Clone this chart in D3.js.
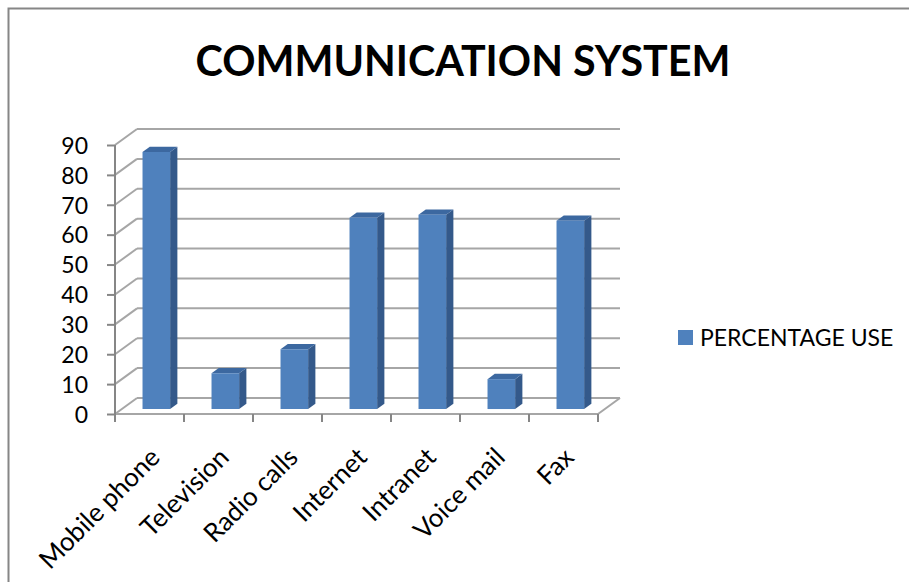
<!DOCTYPE html>
<html><head><meta charset="utf-8">
<script src="https://cdn.jsdelivr.net/npm/d3@7"></script>
<style>html,body{margin:0;padding:0;background:#fff;}svg{display:block;}</style>
</head><body>
<svg id="c" width="909" height="582"></svg>
<script>
const categories = ["Mobile phone","Television","Radio calls","Internet","Intranet","Voice mail","Fax"];
const values = [86, 12, 20, 64, 65, 10, 63];
const yTicks = [0,10,20,30,40,50,60,70,80,90];
const seriesName = "PERCENTAGE USE";
const title = "COMMUNICATION SYSTEM";

const svg = d3.select("#c");
const FONT = "Lato, 'Open Sans', sans-serif";
const DX = 22, DY = 16;           // depth offset (oblique)
const zF = 0.31, zB = 0.64;       // bar depth span

svg.append("rect").attr("x",8.5).attr("y",8.5).attr("width",1000).attr("height",1000)
  .attr("fill","#fff").attr("stroke","#868686").attr("stroke-width",2);

const x = d3.scaleBand().domain(categories).range([115, 598]).paddingInner(0).paddingOuter(0);
const y = d3.scaleLinear().domain([0, 90]).range([414, 145]);

const grid = svg.append("g");
grid.selectAll("line.bw").data(yTicks).join("line")
  .attr("x1", 115 + DX).attr("x2", 598 + DX)
  .attr("y1", d => y(d) - DY).attr("y2", d => y(d) - DY)
  .attr("stroke","#a6a6a6").attr("stroke-width",2);
grid.selectAll("line.lw").data(yTicks).join("line")
  .attr("x1", 115).attr("x2", 115 + DX)
  .attr("y1", d => y(d)).attr("y2", d => y(d) - DY)
  .attr("stroke","#a6a6a6").attr("stroke-width",2);
grid.append("line").attr("x1",115).attr("x2",598).attr("y1",y(0)).attr("y2",y(0))
  .attr("stroke","#a6a6a6").attr("stroke-width",2);
grid.append("line").attr("x1",598).attr("x2",598+DX).attr("y1",y(0)).attr("y2",y(0)-DY)
  .attr("stroke","#a6a6a6").attr("stroke-width",2);

const bounds = categories.map(c => x(c)).concat([598]);
grid.selectAll("line.ct").data(bounds).join("line")
  .attr("x1", d => d).attr("x2", d => d).attr("y1", y(0)).attr("y2", y(0) + 8)
  .attr("stroke","#868686").attr("stroke-width",2);

const yAxis = d3.axisLeft(y).tickValues(yTicks).tickSize(8).tickPadding(6);
const ga = svg.append("g").attr("transform","translate(115,0)").call(yAxis);
ga.select(".domain").attr("stroke","#868686").attr("stroke-width",2).attr("d","M0," + y(0) + "V" + y(90));
ga.selectAll(".tick line").attr("stroke","#868686").attr("stroke-width",2);
ga.selectAll(".tick text").attr("font-family",FONT).attr("font-size",23).attr("fill","#000")
  .attr("x",-27).attr("dy","0.36em");

const bw = x.bandwidth() * 0.4;
const bars = svg.append("g").selectAll("g").data(categories.map((c,i)=>({c, v: values[i]}))).join("g");
function P(xx, yy, z){ return [xx + z*DX, yy - z*DY]; }
bars.each(function(d){
  const g = d3.select(this);
  const x0 = x(d.c) + x.bandwidth()*0.3, x1 = x0 + bw;
  const yb = y(0), yt = y(d.v);
  const fTL = P(x0,yt,zF), fTR = P(x1,yt,zF), fBR = P(x1,yb,zF), fBL = P(x0,yb,zF);
  const bTL = P(x0,yt,zB), bTR = P(x1,yt,zB), bBR = P(x1,yb,zB);
  const line = d3.line();
  g.append("path").attr("d", line([fTR,bTR,bBR,fBR]) + "Z").attr("fill","#34598a");
  g.append("path").attr("d", line([fTL,bTL,bTR,fTR]) + "Z").attr("fill","#3c68a0");
  g.append("path").attr("d", line([fTL,fTR,fBR,fBL]) + "Z").attr("fill","#4f81bd");
});

svg.append("g").selectAll("text").data(categories).join("text")
  .attr("transform", d => `translate(${x(d) + x.bandwidth()/2 + 12},459) rotate(-45)`)
  .attr("text-anchor","end").attr("font-family",FONT).attr("font-size",26).attr("fill","#000")
  .text(d => d);

const t = svg.append("text").attr("x",463).attr("y",76).attr("text-anchor","middle")
  .attr("font-family",FONT).attr("font-weight","bold").attr("font-size",44).attr("fill","#000").text(title);
const tw = t.node().getComputedTextLength();
t.attr("font-size", 44 * 535 / tw);

const lg = svg.append("g");
lg.append("rect").attr("x",678).attr("y",330).attr("width",15).attr("height",15).attr("fill","#4f81bd");
lg.append("text").attr("x",700).attr("y",346).attr("font-family",FONT).attr("font-size",23).attr("fill","#000").text(seriesName);
</script>
</body></html>
